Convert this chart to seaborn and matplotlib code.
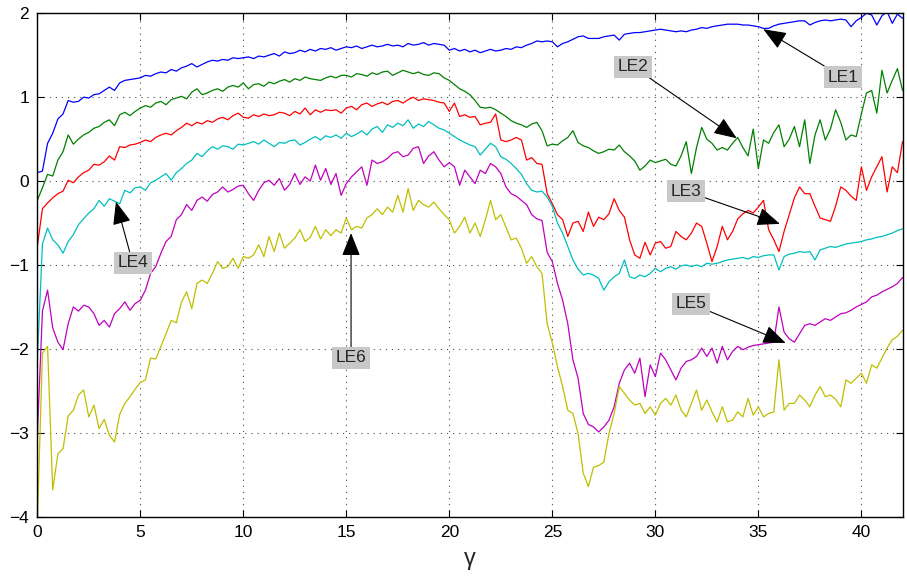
import numpy as np
import pandas as pd
import matplotlib
matplotlib.use("Agg")
import matplotlib.pyplot as plt
import seaborn as sns

# Lyapunov exponent spectrum versus the control parameter gamma (step 0.25)
gamma = np.round(np.arange(0, 42.001, 0.25), 2)

le1 = [0.10, 0.12, 0.45, 0.57, 0.74, 0.80, 0.96, 0.94, 0.95, 1.00, 0.99, 1.03, 1.04, 1.08, 1.12, 1.08, 1.17, 1.20, 1.21, 1.22,
       1.23, 1.26, 1.25, 1.28, 1.30, 1.29, 1.33, 1.31, 1.35, 1.37, 1.40, 1.36, 1.39, 1.42, 1.44, 1.43, 1.45, 1.44, 1.47, 1.46,
       1.47, 1.48, 1.46, 1.49, 1.48, 1.50, 1.52, 1.49, 1.54, 1.52, 1.53, 1.56, 1.54, 1.57, 1.55, 1.58, 1.57, 1.59, 1.56, 1.58,
       1.60, 1.59, 1.61, 1.58, 1.60, 1.62, 1.60, 1.61, 1.63, 1.61, 1.62, 1.60, 1.64, 1.62, 1.63, 1.65, 1.62, 1.64, 1.63, 1.62,
       1.56, 1.58, 1.55, 1.57, 1.54, 1.56, 1.53, 1.55, 1.57, 1.55, 1.56, 1.58, 1.57, 1.60, 1.59, 1.62, 1.64, 1.67, 1.66, 1.67,
       1.66, 1.60, 1.64, 1.66, 1.69, 1.72, 1.73, 1.70, 1.70, 1.70, 1.72, 1.73, 1.74, 1.68, 1.75, 1.76, 1.77, 1.77, 1.78, 1.79,
       1.80, 1.81, 1.80, 1.79, 1.78, 1.79, 1.78, 1.80, 1.81, 1.83, 1.82, 1.84, 1.85, 1.86, 1.87, 1.87, 1.87, 1.86, 1.86, 1.85,
       1.84, 1.82, 1.82, 1.85, 1.87, 1.88, 1.89, 1.90, 1.91, 1.91, 1.86, 1.89, 1.91, 1.92, 1.91, 1.92, 1.93, 1.92, 1.84, 1.91,
       1.95, 2.00, 1.98, 1.86, 1.97, 2.02, 1.88, 1.99, 1.94]

le2 = [-0.23, -0.08, 0.08, 0.06, 0.25, 0.35, 0.55, 0.44, 0.50, 0.55, 0.58, 0.63, 0.65, 0.70, 0.73, 0.66, 0.79, 0.82, 0.78, 0.83,
       0.87, 0.90, 0.88, 0.93, 0.95, 0.91, 0.97, 0.99, 1.01, 0.98, 1.06, 1.10, 1.03, 1.05, 1.08, 1.10, 1.07, 1.12, 1.14, 1.12,
       1.17, 1.10, 1.15, 1.16, 1.13, 1.18, 1.16, 1.19, 1.21, 1.18, 1.22, 1.20, 1.24, 1.22, 1.21, 1.20, 1.23, 1.25, 1.23, 1.26,
       1.26, 1.24, 1.28, 1.27, 1.25, 1.29, 1.27, 1.30, 1.31, 1.26, 1.29, 1.32, 1.30, 1.28, 1.30, 1.27, 1.26, 1.29, 1.28, 1.23,
       1.20, 1.15, 1.10, 1.07, 1.03, 0.96, 0.88, 0.87, 0.88, 0.85, 0.81, 0.77, 0.72, 0.69, 0.67, 0.64, 0.68, 0.70, 0.60, 0.42,
       0.44, 0.43, 0.48, 0.52, 0.60, 0.46, 0.42, 0.40, 0.36, 0.33, 0.35, 0.38, 0.37, 0.43, 0.35, 0.30, 0.24, 0.13, 0.18, 0.25,
       0.22, 0.24, 0.26, 0.20, 0.18, 0.30, 0.47, 0.09, 0.40, 0.64, 0.50, 0.45, 0.37, 0.40, 0.37, 0.45, 0.52, 0.40, 0.30, 0.62,
       0.15, 0.49, 0.45, 0.58, 0.67, 0.41, 0.50, 0.65, 0.41, 0.73, 0.21, 0.55, 0.73, 0.49, 0.62, 0.85, 0.70, 0.49, 0.55, 0.53,
       0.80, 1.05, 1.08, 0.81, 1.32, 1.05, 1.20, 1.34, 1.08]

le3 = [-0.78, -0.33, -0.26, -0.20, -0.15, -0.12, 0.01, -0.02, 0.05, 0.10, 0.13, 0.20, 0.19, 0.23, 0.30, 0.25, 0.41, 0.40, 0.43, 0.44,
       0.46, 0.49, 0.47, 0.52, 0.55, 0.57, 0.55, 0.60, 0.64, 0.69, 0.66, 0.70, 0.68, 0.72, 0.70, 0.74, 0.76, 0.73, 0.78, 0.81,
       0.76, 0.75, 0.79, 0.77, 0.80, 0.78, 0.79, 0.82, 0.81, 0.78, 0.83, 0.80, 0.87, 0.79, 0.85, 0.82, 0.85, 0.84, 0.85, 0.81,
       0.87, 0.89, 0.85, 0.91, 0.93, 0.89, 0.92, 0.94, 0.91, 0.95, 0.96, 0.93, 0.97, 1.00, 0.96, 0.98, 0.97, 0.96, 0.94, 0.93,
       0.83, 0.93, 0.77, 0.79, 0.76, 0.77, 0.67, 0.69, 0.70, 0.80, 0.49, 0.47, 0.49, 0.52, 0.49, 0.25, 0.28, 0.21, 0.20, -0.15,
       -0.27, -0.40, -0.46, -0.66, -0.50, -0.48, -0.60, -0.37, -0.54, -0.43, -0.46, -0.39, -0.21, -0.35, -0.43, -0.70, -0.88, -0.92, -0.73, -0.88,
       -0.74, -0.72, -0.80, -0.78, -0.60, -0.66, -0.70, -0.62, -0.50, -0.54, -0.74, -0.96, -0.78, -0.54, -0.70, -0.60, -0.45, -0.39, -0.35, -0.38,
       -0.31, -0.23, -0.58, -0.70, -0.84, -0.60, -0.40, -0.20, -0.07, -0.15, -0.15, -0.30, -0.44, -0.46, -0.48, -0.30, -0.07, -0.11, -0.18, -0.23,
       0.17, -0.11, 0.05, 0.17, 0.29, -0.13, 0.17, 0.10, 0.47]

le4 = [-2.15, -0.75, -0.56, -0.70, -0.76, -0.86, -0.72, -0.64, -0.52, -0.45, -0.38, -0.33, -0.23, -0.30, -0.21, -0.24, -0.27, -0.11, -0.14, -0.08,
       -0.07, -0.11, -0.02, 0.01, 0.05, 0.09, 0.01, 0.10, 0.15, 0.21, 0.25, 0.33, 0.29, 0.36, 0.41, 0.38, 0.42, 0.41, 0.38, 0.44,
       0.43, 0.45, 0.47, 0.44, 0.49, 0.45, 0.41, 0.46, 0.45, 0.48, 0.49, 0.43, 0.46, 0.50, 0.53, 0.49, 0.54, 0.52, 0.55, 0.51,
       0.57, 0.53, 0.56, 0.60, 0.55, 0.62, 0.65, 0.58, 0.67, 0.64, 0.69, 0.66, 0.73, 0.63, 0.68, 0.65, 0.71, 0.67, 0.63, 0.61,
       0.57, 0.53, 0.49, 0.46, 0.43, 0.41, 0.31, 0.38, 0.45, 0.41, 0.29, 0.26, 0.21, 0.15, 0.08, -0.03, -0.11, -0.13, -0.12, -0.19,
       -0.30, -0.50, -0.62, -0.78, -0.94, -1.05, -1.12, -1.10, -1.12, -1.16, -1.30, -1.20, -1.14, -1.10, -0.94, -1.14, -1.16, -1.12, -1.14, -1.10,
       -1.04, -1.08, -1.04, -1.02, -1.05, -1.01, -1.00, -1.02, -1.00, -1.02, -0.98, -0.99, -0.98, -0.96, -0.94, -0.93, -0.92, -0.91, -0.93, -0.90,
       -0.91, -0.89, -0.88, -0.88, -1.06, -0.90, -0.87, -0.86, -0.84, -0.85, -0.84, -0.94, -0.82, -0.80, -0.78, -0.79, -0.77, -0.75, -0.74, -0.73,
       -0.72, -0.70, -0.69, -0.67, -0.66, -0.64, -0.62, -0.59, -0.57]

le5 = [-3.05, -1.55, -1.30, -1.75, -1.92, -2.01, -1.70, -1.50, -1.55, -1.48, -1.50, -1.58, -1.72, -1.66, -1.74, -1.58, -1.52, -1.44, -1.54, -1.46,
       -1.42, -1.30, -1.10, -1.02, -0.86, -0.72, -0.66, -0.46, -0.40, -0.28, -0.35, -0.23, -0.19, -0.24, -0.16, -0.13, -0.07, -0.13, -0.10, -0.06,
       -0.05, -0.15, -0.23, -0.11, -0.02, 0.01, -0.05, 0.03, -0.11, -0.04, 0.09, -0.04, 0.05, 0.00, 0.19, 0.01, 0.15, -0.04, 0.09, -0.17,
       -0.03, 0.05, 0.11, 0.17, -0.05, 0.25, 0.21, 0.23, 0.27, 0.33, 0.35, 0.29, 0.31, 0.39, 0.41, 0.21, 0.30, 0.35, 0.25, 0.17,
       0.22, 0.17, -0.05, 0.13, 0.05, -0.03, 0.13, 0.09, 0.21, 0.17, 0.09, -0.07, -0.15, -0.18, -0.23, -0.28, -0.40, -0.45, -0.47, -0.85,
       -0.96, -1.22, -1.42, -1.70, -2.13, -2.35, -2.77, -2.90, -2.93, -2.99, -2.93, -2.85, -2.69, -2.41, -2.25, -2.17, -2.29, -2.11, -2.57, -2.19,
       -2.33, -2.05, -2.13, -2.25, -2.37, -2.23, -2.15, -2.13, -2.09, -1.99, -2.09, -1.99, -2.17, -1.97, -2.13, -2.03, -1.97, -2.01, -1.98, -1.96,
       -1.95, -1.94, -1.93, -1.92, -1.50, -1.80, -1.88, -1.92, -1.82, -1.72, -1.70, -1.72, -1.68, -1.64, -1.66, -1.62, -1.58, -1.57, -1.54, -1.50,
       -1.47, -1.44, -1.38, -1.36, -1.32, -1.29, -1.26, -1.22, -1.15]

le6 = [-4.10, -2.05, -1.97, -3.68, -3.25, -3.19, -2.80, -2.73, -2.55, -2.49, -2.81, -2.67, -2.95, -2.84, -3.03, -3.11, -2.78, -2.65, -2.57, -2.48,
       -2.40, -2.37, -2.11, -2.12, -1.97, -1.82, -1.66, -1.69, -1.44, -1.32, -1.52, -1.22, -1.18, -1.22, -1.10, -0.96, -1.04, -1.02, -0.92, -1.04,
       -0.90, -0.92, -0.88, -0.76, -0.90, -0.66, -0.84, -0.62, -0.80, -0.74, -0.68, -0.58, -0.72, -0.67, -0.54, -0.69, -0.58, -0.65, -0.58, -0.62,
       -0.44, -0.58, -0.54, -0.56, -0.44, -0.40, -0.33, -0.40, -0.31, -0.37, -0.17, -0.37, -0.09, -0.35, -0.23, -0.28, -0.31, -0.25, -0.33, -0.40,
       -0.46, -0.62, -0.54, -0.43, -0.62, -0.50, -0.66, -0.46, -0.23, -0.46, -0.40, -0.55, -0.70, -0.68, -0.80, -0.98, -0.90, -1.02, -1.10, -1.70,
       -1.93, -2.21, -2.45, -2.73, -2.77, -3.01, -3.48, -3.64, -3.41, -3.39, -3.35, -3.01, -2.77, -2.45, -2.53, -2.61, -2.67, -2.65, -2.77, -2.69,
       -2.79, -2.65, -2.59, -2.67, -2.55, -2.73, -2.81, -2.65, -2.49, -2.73, -2.61, -2.75, -2.87, -2.69, -2.87, -2.85, -2.75, -2.81, -2.59, -2.79,
       -2.69, -2.81, -2.77, -2.75, -2.13, -2.73, -2.65, -2.65, -2.55, -2.61, -2.69, -2.55, -2.45, -2.57, -2.55, -2.60, -2.69, -2.37, -2.41, -2.35,
       -2.29, -2.41, -2.19, -2.23, -2.11, -1.99, -1.89, -1.85, -1.78]

series_names = ["LE1", "LE2", "LE3", "LE4", "LE5", "LE6"]
series_values = [le1, le2, le3, le4, le5, le6]
series_colors = ["#0000ff", "#008000", "#ff0000", "#00bfbf", "#bf00bf", "#bfbf00"]

# Callout labels: text position and the point each arrow indicates
label_pos = [(39.09, 1.24), (28.92, 1.365), (31.49, -0.12), (4.63, -0.975), (31.73, -1.46), (15.23, -2.107)]
arrow_tip = [(35.24, 1.81), (33.95, 0.51), (36.05, -0.51), (3.82, -0.245), (36.33, -1.93), (15.23, -0.62)]

df = pd.concat(
    [pd.DataFrame({"gamma": gamma, "value": vals, "series": name})
     for name, vals in zip(series_names, series_values)],
    ignore_index=True,
)

sns.set_style("ticks")
plt.rcParams["font.family"] = ["Liberation Sans", "DejaVu Sans"]

fig = plt.figure(figsize=(9.07, 5.82), dpi=100)
ax = fig.add_axes([0.0411, 0.1122, 0.954, 0.865])

sns.lineplot(data=df, x="gamma", y="value", hue="series",
             palette=dict(zip(series_names, series_colors)),
             estimator=None, sort=False, legend=False, lw=0.9, ax=ax)

ax.set_xlim(0, 42)
ax.set_ylim(-4, 2)
ax.set_xticks([0, 5, 10, 15, 20, 25, 30, 35, 40])
ax.set_yticks([-4, -3, -2, -1, 0, 1, 2])
ax.grid(True, linestyle=(0, (1, 4.5)), color="0.3", lw=0.8)
ax.tick_params(direction="in", top=True, right=True, length=5, width=0.8,
               labelsize=12.5, pad=6, colors="black")
for sp in ax.spines.values():
    sp.set_linewidth(1.0)
    sp.set_color("black")

ax.set_xlabel("γ", fontsize=17, labelpad=6)
ax.set_ylabel("")

for name, pos, tip in zip(series_names, label_pos, arrow_tip):
    ax.annotate(name, xy=tip, xytext=pos, ha="center", va="center", fontsize=12.5,
                bbox=dict(boxstyle="square,pad=0.2", fc="#c8c8c8", ec="none"),
                arrowprops=dict(arrowstyle="-|>,head_length=0.95,head_width=0.38",
                                color="black", lw=0.8, shrinkA=0, shrinkB=0,
                                mutation_scale=15))

fig.savefig("out.png", dpi=100)
